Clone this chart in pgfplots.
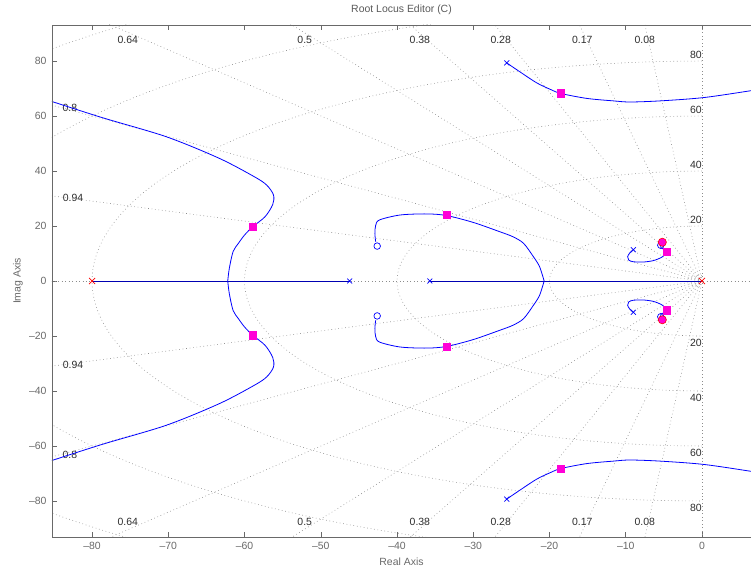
\documentclass[border=0pt]{standalone}
\usepackage{fontspec}
\setmainfont{Liberation Sans}
\usepackage{pgfplots}
\pgfplotsset{compat=1.18}
\definecolor{tickgray}{RGB}{105,105,105}
\definecolor{gridgray}{RGB}{140,140,140}
\definecolor{labdark}{RGB}{45,45,45}
\definecolor{cmag}{RGB}{255,0,215}
\definecolor{locblue}{RGB}{0,0,255}
\tikzset{
  gridline/.style={gridgray, line width=0.6pt, dash pattern=on 0.7pt off 2.8pt},
  glab/.style={font=\fontsize{10.5}{12}\selectfont, text=labdark, inner sep=0pt},
}
\begin{document}
\begin{tikzpicture}
\useasboundingbox (-52bp,-36bp) rectangle (699bp,537bp);
\begin{axis}[name=ax, at={(0,0)}, anchor=south west, scale only axis,
  width=699bp, height=512bp,
  xmin=-85.25, xmax=6.43, ymin=-93.1, ymax=93.1,
  axis line style={draw=none},
  tick align=inside, xtick pos=both, ytick pos=left,
  xtick={-80,-70,-60,-50,-40,-30,-20,-10,0},
  xticklabels={\textendash80,\textendash70,\textendash60,\textendash50,\textendash40,\textendash30,\textendash20,\textendash10,0},
  ytick={-80,-60,-40,-20,0,20,40,60,80},
  yticklabels={\textendash80,\textendash60,\textendash40,\textendash20,0,20,40,60,80},
  major tick length=5bp, tick style={tickgray, line width=0.5pt},
  ticklabel style={font=\fontsize{10.5}{12}\selectfont, text=tickgray},
  xticklabel style={yshift=-2bp},
  yticklabel style={xshift=-2bp},
  xlabel={Real Axis}, ylabel={Imag Axis}, title={Root Locus Editor (C)},
  every axis x label/.style={at={(axis description cs:0.5,0)}, anchor=center, yshift=-25bp,
     font=\fontsize{10.5}{12}\selectfont, text=tickgray},
  every axis y label/.style={at={(axis description cs:0,0.5)}, xshift=-34bp, rotate=90, anchor=center,
     font=\fontsize{10.5}{12}\selectfont, text=tickgray},
  every axis title/.style={at={(axis description cs:0.5,1)}, anchor=center, yshift=15bp,
     font=\fontsize{10.5}{12}\selectfont, text=tickgray!85!black},
]
% ---- s-plane grid: damping rays
\draw[gridline] (0,0) -- (-12,149.5);
\draw[gridline] (0,0) -- (-25.5,147.8);
\draw[gridline] (0,0) -- (-42,144);
\draw[gridline] (0,0) -- (-57,138.7);
\draw[gridline] (0,0) -- (-75,129.9);
\draw[gridline] (0,0) -- (-96,115.3);
\draw[gridline] (0,0) -- (-120,90);
\draw[gridline] (0,0) -- (-141,51.2);
\draw[gridline] (0,0) -- (-12,-149.5);
\draw[gridline] (0,0) -- (-25.5,-147.8);
\draw[gridline] (0,0) -- (-42,-144);
\draw[gridline] (0,0) -- (-57,-138.7);
\draw[gridline] (0,0) -- (-75,-129.9);
\draw[gridline] (0,0) -- (-96,-115.3);
\draw[gridline] (0,0) -- (-120,-90);
\draw[gridline] (0,0) -- (-141,-51.2);
\draw[gridline] (-100,0) -- (20,0);
\draw[gridline] (0,-100) -- (0,100);
% ---- natural frequency circles
\draw[gridline] plot[domain=90:270, samples=40, variable=\t] ({1.2*cos(\t)},{1.2*sin(\t)});
\draw[gridline] plot[domain=90:270, samples=40, variable=\t] ({2*cos(\t)},{2*sin(\t)});
\draw[gridline] plot[domain=90:270, samples=91, variable=\t] ({20*cos(\t)},{20*sin(\t)});
\draw[gridline] plot[domain=90:270, samples=91, variable=\t] ({40*cos(\t)},{40*sin(\t)});
\draw[gridline] plot[domain=90:270, samples=121, variable=\t] ({60*cos(\t)},{60*sin(\t)});
\draw[gridline] plot[domain=90:270, samples=121, variable=\t] ({80*cos(\t)},{80*sin(\t)});
\draw[gridline] plot[domain=90:270, samples=151, variable=\t] ({100*cos(\t)},{100*sin(\t)});
\draw[gridline] plot[domain=90:270, samples=151, variable=\t] ({120*cos(\t)},{120*sin(\t)});
% ---- grid labels
\node[glab] at (-75.3,87.6) {0.64};
\node[glab] at (-52.1,87.6) {0.5};
\node[glab] at (-37.0,87.6) {0.38};
\node[glab] at (-26.4,87.6) {0.28};
\node[glab] at (-15.7,87.6) {0.17};
\node[glab] at (-7.5,87.6) {0.08};
\node[glab] at (-75.3,-87.6) {0.64};
\node[glab] at (-52.1,-87.6) {0.5};
\node[glab] at (-37.0,-87.6) {0.38};
\node[glab] at (-26.4,-87.6) {0.28};
\node[glab] at (-15.7,-87.6) {0.17};
\node[glab] at (-7.5,-87.6) {0.08};
\node[glab] at (-82.9,62.9) {0.8};
\node[glab] at (-82.9,-63.3) {0.8};
\node[glab] at (-82.5,30.1) {0.94};
\node[glab] at (-82.5,-30.5) {0.94};
\node[glab, anchor=east] at (0,82.3) {80};
\node[glab, anchor=east] at (0,62.3) {60};
\node[glab, anchor=east] at (0,42.3) {40};
\node[glab, anchor=east] at (0,22.3) {20};
\node[glab, anchor=east] at (0,-22.6) {20};
\node[glab, anchor=east] at (0,-42.4) {40};
\node[glab, anchor=east] at (0,-62.5) {60};
\node[glab, anchor=east] at (0,-82.6) {80};
% ---- root locus branches
\pgfplotsset{every axis plot/.append style={line width=0.8pt}}
\addplot[locblue!70!black, no marks] coordinates {(-80,0) (-46.2,0)};
\addplot[locblue!70!black, no marks] coordinates {(-35.7,0) (0,0)};
% far-left branches
\addplot[locblue, no marks, smooth] coordinates {(-62.2,0) (-62.0,4.5) (-61.5,10.7) (-60.8,13.7) (-60.0,16.7) (-58.9,19.8) (-57.3,23.4) (-56.3,27.8) (-56.2,31.3) (-57.1,34.9) (-58.7,37.9) (-63.3,44.6) (-70.3,52.5) (-79,59.7) (-87.5,67.3)};
\addplot[locblue, no marks, smooth] coordinates {(-62.2,0) (-62.0,-4.5) (-61.5,-10.7) (-60.8,-13.7) (-60.0,-16.7) (-58.9,-19.8) (-57.3,-23.4) (-56.3,-27.8) (-56.2,-31.3) (-57.1,-34.9) (-58.7,-37.9) (-63.3,-44.6) (-70.3,-52.5) (-79,-59.7) (-87.5,-67.3)};
% middle loops
\addplot[locblue, no marks, smooth] coordinates {(-20.7,0) (-21.3,5.2) (-22.1,8.8) (-23.4,13.7) (-24.8,16.1) (-26.5,17.9) (-30,21.3) (-33.5,23.8) (-36.1,24.4) (-39.6,24) (-42.3,22.2) (-42.8,20.2) (-42.9,17.3) (-42.8,14.3)};
\addplot[locblue, no marks, smooth] coordinates {(-20.7,0) (-21.3,-5.2) (-22.1,-8.8) (-23.4,-13.7) (-24.8,-16.1) (-26.5,-17.9) (-30,-21.3) (-33.5,-23.8) (-36.1,-24.4) (-39.6,-24) (-42.3,-22.2) (-42.8,-20.2) (-42.9,-17.3) (-42.8,-14.3)};
% upper/lower right branches
\addplot[locblue, no marks, smooth] coordinates {(-25.6,79.3) (-23.9,76.1) (-21.7,72.1) (-19.9,69.7) (-18.5,68.2) (-15.1,66.4) (-11.6,65.5) (-9.45,65.1) (-5.5,65.5) (0.2,66.7) (6.4,69.2) (8,70)};
\addplot[locblue, no marks, smooth] coordinates {(-25.6,-79.3) (-23.9,-76.1) (-21.7,-72.1) (-19.9,-69.7) (-18.5,-68.2) (-15.1,-66.4) (-11.6,-65.5) (-9.45,-65.1) (-5.5,-65.5) (0.2,-66.7) (6.4,-69.2) (8,-70)};
% small loops near origin
\addplot[locblue, no marks, smooth] coordinates {(-9.0,11.4) (-9.5,10.1) (-9.75,8.8) (-9.6,7.6) (-9.0,7.0) (-7.7,6.9) (-6.4,7.4) (-5.3,8.6) (-4.7,10.1) (-4.55,10.7) (-5.0,11.5) (-5.4,12.2) (-5.4,13)};
\addplot[locblue, no marks, smooth] coordinates {(-9.0,-11.4) (-9.5,-10.1) (-9.75,-8.8) (-9.6,-7.6) (-9.0,-7.0) (-7.7,-6.9) (-6.4,-7.4) (-5.3,-8.6) (-4.7,-10.1) (-4.55,-10.7) (-5.0,-11.5) (-5.4,-12.2) (-5.4,-13)};
% ---- open-loop poles and zeros
\addplot[locblue, only marks, mark=x, mark size=3.5pt, mark options={line width=0.7pt}] coordinates {(-46.2,0) (-35.7,0) (-25.6,79.3) (-25.6,-79.3) (-9.0,11.4) (-9.0,-11.4)};
\addplot[locblue, only marks, mark=o, mark size=3.3pt, mark options={line width=0.7pt}] coordinates {(-42.6,12.7) (-42.6,-12.7) (-5.4,13) (-5.4,-13)};
\addplot[red, only marks, mark=x, mark size=4.3pt, mark options={line width=0.7pt}] coordinates {(-80,0) (0,0)};
% ---- compensator zeros / closed-loop poles
\addplot[only marks, mark=*, mark size=4.1pt, mark options={draw=red, fill=cmag, line width=0.6pt}] coordinates {(-5.2,14.1) (-5.2,-14.1)};
\addplot[only marks, mark=square*, mark size=3.6pt, mark options={draw=cmag, fill=cmag}] coordinates {(-58.9,19.8) (-58.9,-19.8) (-33.5,23.9) (-33.5,-23.9) (-18.5,68.2) (-18.5,-68.2) (-4.55,10.7) (-4.55,-10.7)};
\end{axis}
\draw[tickgray, line width=0.7pt] (ax.north east) -- (ax.north west) -- (ax.south west) -- (ax.south east);
\end{tikzpicture}
\end{document}
